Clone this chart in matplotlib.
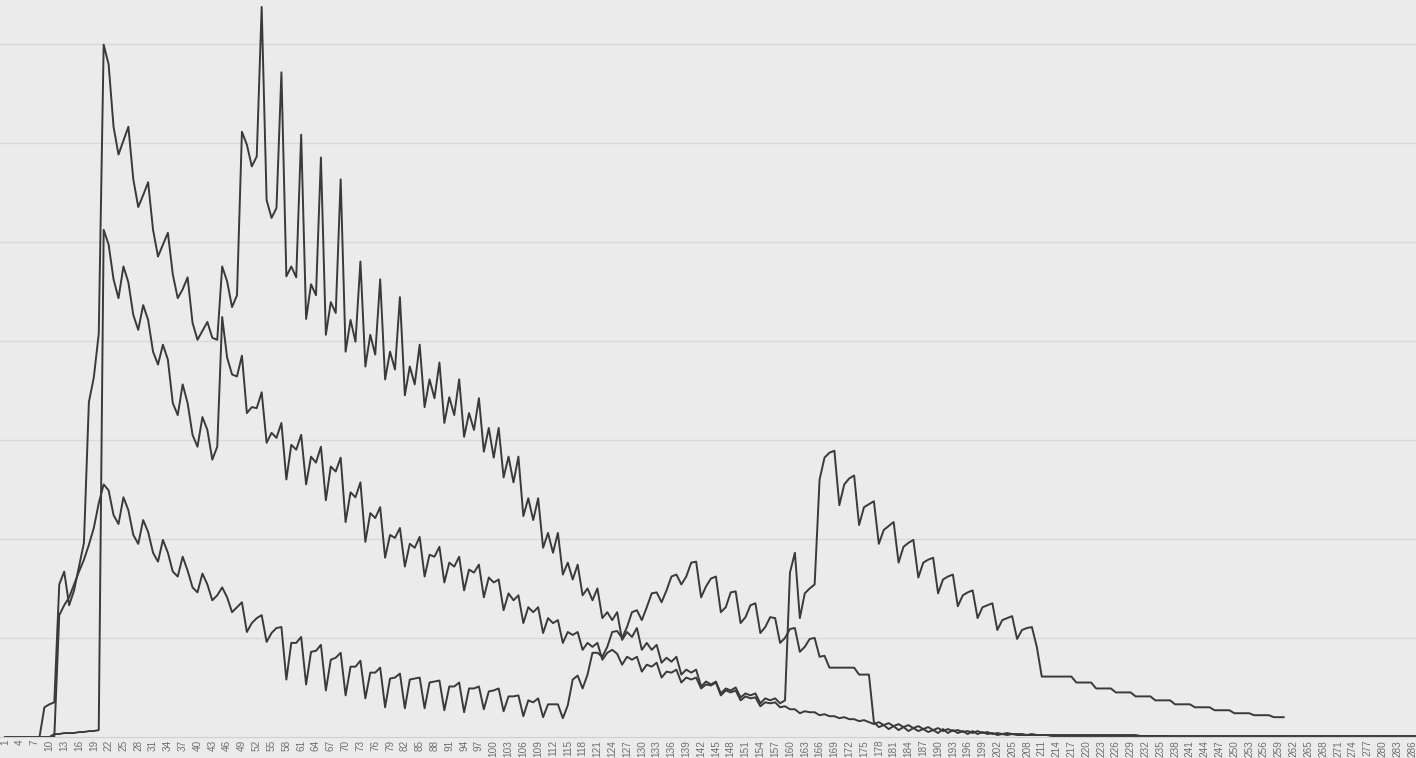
import numpy as np
import matplotlib.pyplot as plt

# x axis: day index 1..287, tick label on every third day
days = list(range(1, 288))

# top series (ends at day 260)
series_a = [
    0, 0, 0, 0, 0, 0, 0, 0, 30, 33,
    35, 154, 167, 133, 148, 172, 196, 338, 363, 407,
    699, 679, 616, 588, 602, 616, 563, 535, 547, 560,
    512, 485, 497, 509, 467, 443, 452, 464, 418, 401,
    410, 419, 403, 401, 475, 460, 434, 446, 611, 598,
    576, 586, 737, 542, 524, 534, 671, 465, 475, 464,
    608, 422, 457, 446, 585, 406, 439, 428, 563, 389,
    421, 399, 480, 374, 406, 386, 462, 361, 389, 371,
    444, 345, 374, 356, 396, 333, 361, 342, 378, 317,
    343, 325, 361, 303, 327, 310, 342, 288, 312, 282,
    312, 262, 283, 257, 283, 223, 241, 219, 241, 191,
    206, 186, 206, 164, 176, 159, 174, 143, 150, 138,
    150, 120, 126, 118, 126, 98, 106, 101, 110, 88,
    95, 88, 93, 75, 80, 76, 81, 63, 68, 65,
    68, 51, 56, 53, 56, 44, 49, 47, 50, 40,
    44, 42, 44, 34, 39, 37, 39, 34, 37, 166,
    186, 120, 145, 150, 154, 260, 282, 287, 289, 234,
    255, 261, 264, 214, 232, 235, 238, 195, 209, 213,
    217, 176, 192, 196, 199, 161, 176, 179, 181, 145,
    159, 162, 164, 132, 143, 146, 148, 120, 131, 133,
    135, 108, 118, 120, 122, 99, 108, 110, 111, 91,
    61, 61, 61, 61, 61, 61, 61, 55, 55, 55,
    55, 49, 49, 49, 49, 45, 45, 45, 45, 41,
    41, 41, 41, 37, 37, 37, 37, 33, 33, 33,
    33, 30, 30, 30, 30, 27, 27, 27, 27, 24,
    24, 24, 24, 22, 22, 22, 22, 20, 20, 20,
]

# middle series
series_b = [
    0, 0, 0, 0, 0, 0, 0, 0, 0, 0,
    3, 3, 4, 4, 4, 5, 5, 6, 6, 7,
    512, 497, 462, 443, 475, 459, 426, 411, 436, 421,
    389, 376, 396, 381, 337, 325, 356, 337, 305, 293,
    323, 310, 280, 293, 424, 383, 366, 364, 385, 327,
    333, 332, 348, 297, 307, 302, 317, 260, 295, 290,
    305, 255, 283, 277, 293, 239, 273, 268, 282, 217,
    247, 242, 257, 197, 226, 221, 232, 181, 204, 201,
    211, 172, 195, 191, 202, 162, 184, 182, 192, 156,
    176, 172, 182, 148, 169, 166, 174, 141, 161, 156,
    159, 128, 145, 138, 143, 115, 131, 126, 131, 105,
    120, 115, 118, 95, 106, 103, 106, 88, 95, 91,
    95, 78, 85, 88, 84, 73, 81, 78, 81, 66,
    73, 71, 75, 60, 66, 65, 68, 55, 60, 58,
    60, 49, 53, 52, 55, 42, 47, 45, 47, 37,
    41, 39, 40, 31, 35, 34, 35, 30, 31, 28,
    28, 24, 26, 25, 25, 22, 23, 21, 21, 19,
    20, 18, 18, 16, 17, 15, 13, 15, 12, 14,
    11, 13, 10, 12, 9, 11, 8, 10, 7, 9,
    6, 8, 6, 7, 5, 6, 4, 6, 4, 5,
    3, 4, 3, 4, 3, 3, 3, 2, 3, 2,
    2, 2, 2, 2, 2, 2, 2, 2, 2, 2,
    2, 2, 2, 2, 2, 2, 2, 2, 2, 2,
    1, 1, 1, 1, 1, 1, 1, 1, 1, 1,
    1, 1, 1, 1, 1, 1, 1, 1, 1, 1,
    1, 1, 1, 1, 1, 1, 1, 1, 1, 1,
    1, 1, 1, 1, 1, 1, 1, 1, 1, 1,
    1, 1, 1, 1, 1, 1, 1, 1, 1, 1,
    1, 1, 1, 1, 1, 1, 1,
]

# low series with the later hump
series_c = [
    0, 0, 0, 0, 0, 0, 0, 0, 0, 0,
    0, 123, 133, 141, 154, 167, 179, 194, 211, 236,
    255, 249, 224, 215, 242, 229, 204, 195, 219, 207,
    186, 177, 199, 186, 167, 162, 182, 168, 151, 146,
    165, 154, 138, 143, 151, 141, 126, 131, 136, 106,
    115, 120, 123, 96, 105, 110, 111, 58, 95, 95,
    101, 53, 86, 87, 93, 47, 78, 80, 85, 42,
    71, 71, 77, 39, 65, 65, 70, 30, 59, 60,
    64, 29, 58, 59, 60, 29, 55, 56, 57, 27,
    51, 51, 55, 25, 49, 49, 51, 28, 46, 47,
    49, 26, 41, 41, 42, 21, 37, 35, 39, 20,
    33, 33, 33, 19, 32, 58, 62, 49, 63, 85,
    85, 81, 91, 106, 107, 100, 111, 126, 128, 118,
    131, 145, 146, 136, 148, 162, 164, 154, 162, 176,
    177, 141, 152, 160, 162, 126, 131, 146, 147, 115,
    121, 133, 135, 105, 111, 121, 120, 95, 100, 109,
    110, 86, 91, 99, 100, 81, 82, 70, 70, 70,
    70, 70, 70, 63, 63, 63, 15, 10, 12, 8,
    11, 7, 10, 6, 9, 6, 8, 5, 7, 4,
    8, 4, 7, 4, 6, 3, 6, 3, 5, 3,
    4, 2, 3, 2, 3, 2, 2, 2, 2, 2,
    2, 2, 1, 1, 1, 1, 1, 1, 1, 1,
    1, 1, 1, 1, 1, 1, 1, 1, 1, 1,
    1, 1, 1, 1, 1, 1, 0, 0, 0, 0,
    0, 0, 0, 0, 0, 0, 0, 0, 0, 0,
    0, 0, 0, 0, 0, 0, 0, 0, 0, 0,
    0, 0, 0, 0, 0, 0, 0, 0, 0, 0,
    0, 0, 0, 0, 0, 0, 0, 0, 0, 0,
    0, 0, 0, 0, 0, 0, 0,
]


def pad(vals, n):
    return list(vals) + [np.nan] * (n - len(vals))


def plot():
    n = len(days)
    fig = plt.figure(figsize=(14.16, 7.58), dpi=100)
    fig.patch.set_facecolor('#ebebeb')
    ax = fig.add_axes([0, 21 / 758, 1, 737 / 758])
    ax.set_facecolor('#ebebeb')

    for s in (series_a, series_b, series_c):
        ax.plot(days, pad(s, n), color='#3a3a3a', lw=1.4, clip_on=False)

    ax.set_xlim(0, 286.8)
    ax.set_ylim(0, 744)

    ax.set_yticks(range(100, 800, 100))
    ax.set_yticklabels([])
    ax.yaxis.grid(True, color='#d8d8d8', lw=1)
    ax.set_axisbelow(True)
    ax.tick_params(axis='y', length=0)

    ticks = days[::3]
    ax.set_xticks(ticks)
    ax.set_xticklabels([str(d) for d in ticks], rotation=90, fontsize=7.2,
                       color='#707070', family=['Liberation Sans', 'DejaVu Sans'])
    ax.tick_params(axis='x', length=0, pad=2)

    for sp in ['top', 'left', 'right']:
        ax.spines[sp].set_visible(False)
    ax.spines['bottom'].set_color('#cfcfcf')

    fig.savefig('out.png', dpi=100, facecolor=fig.get_facecolor())


if __name__ == '__main__':
    plot()
